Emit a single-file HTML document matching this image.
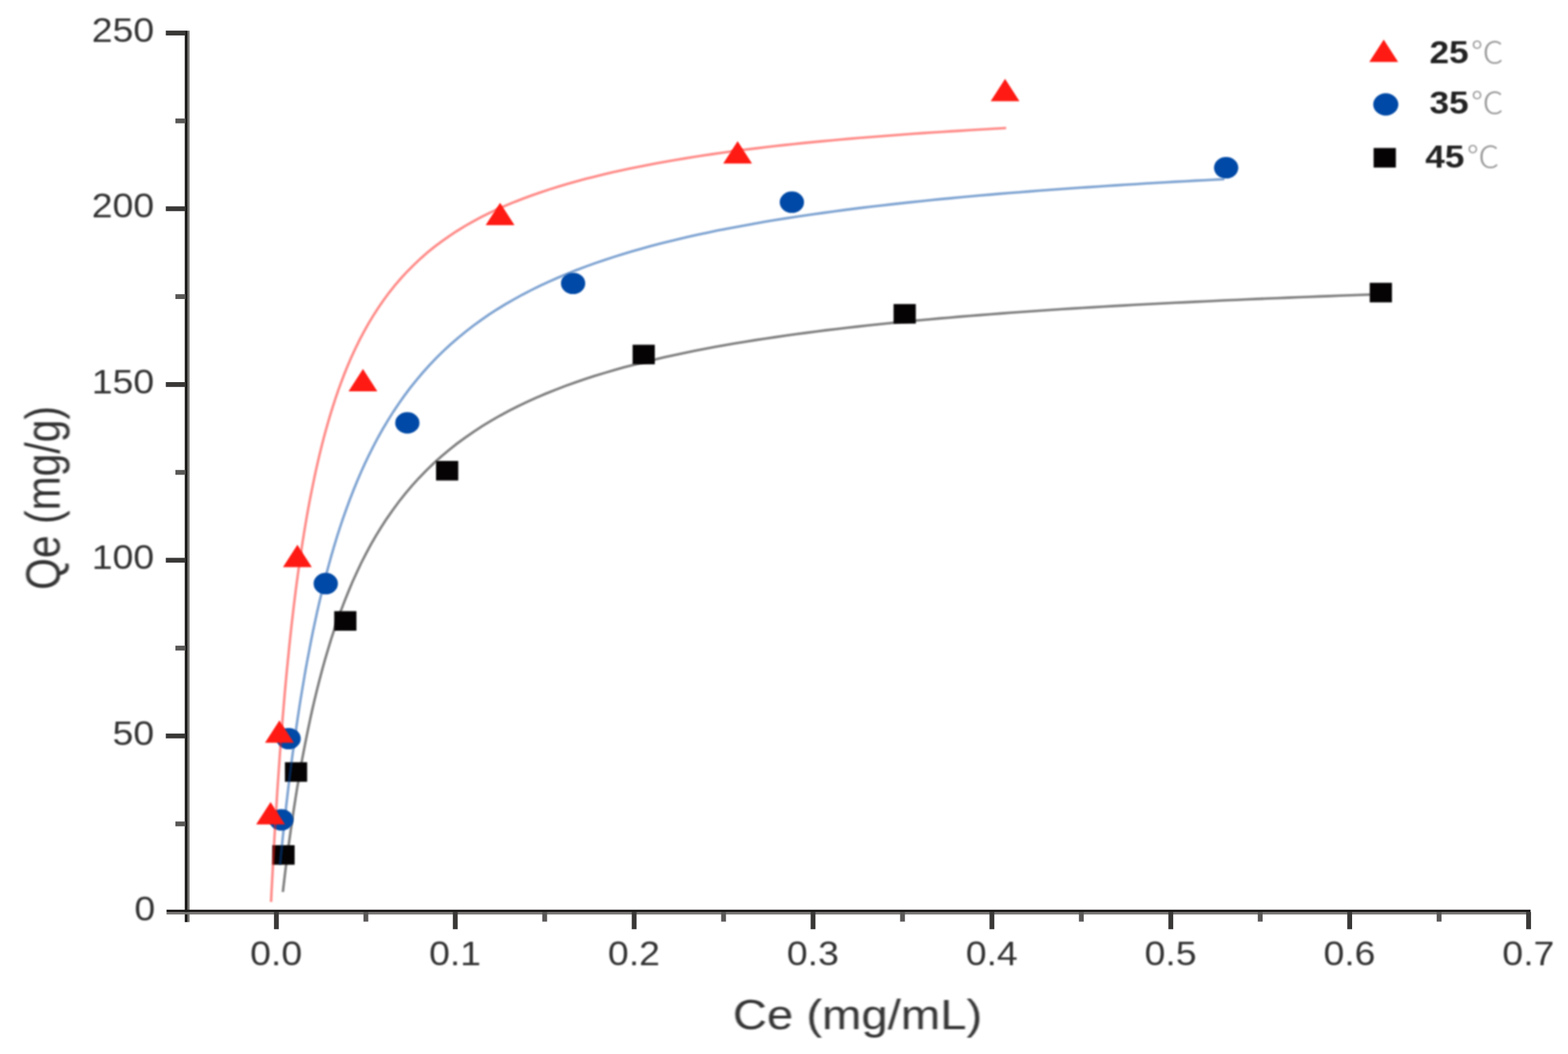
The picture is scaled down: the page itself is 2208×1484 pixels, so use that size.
<!DOCTYPE html>
<html lang="en"><head><meta charset="utf-8"><title>Adsorption isotherms</title>
<style>html,body{margin:0;padding:0;background:#fff;}body{width:2208px;height:1484px;overflow:hidden;}svg{display:block;}text{font-family:"Liberation Sans","Noto Sans CJK SC",sans-serif;}.bt{filter:blur(1.3px)}.bc{filter:blur(0.8px)}.bm{filter:blur(0.8px)}</style></head><body>
<svg width="2208" height="1484" viewBox="0 0 2208 1484">
<rect width="2208" height="1484" fill="#fff"/>
<g class="ba">
<rect x="260.2" y="43.2" width="3.9" height="1255.1" fill="#1c1919"/>
<rect x="264.1" y="43.2" width="2.8" height="1255.1" fill="#747271"/>
<rect x="234.5" y="1280.8" width="1920.8" height="3.3" fill="#1c1919"/>
<rect x="234.5" y="1284.1" width="1920.8" height="3.4" fill="#747271"/>
<rect x="247.0" y="1156.6" width="14.2" height="6.8" fill="#5a5757"/>
<rect x="233.5" y="1032.8" width="27.7" height="6.8" fill="#3a3737"/>
<rect x="247.0" y="909.1" width="14.2" height="6.8" fill="#5a5757"/>
<rect x="233.5" y="785.4" width="27.7" height="6.8" fill="#3a3737"/>
<rect x="247.0" y="661.7" width="14.2" height="6.8" fill="#5a5757"/>
<rect x="233.5" y="538.0" width="27.7" height="6.8" fill="#3a3737"/>
<rect x="247.0" y="414.2" width="14.2" height="6.8" fill="#5a5757"/>
<rect x="233.5" y="290.5" width="27.7" height="6.8" fill="#3a3737"/>
<rect x="247.0" y="166.8" width="14.2" height="6.8" fill="#5a5757"/>
<rect x="233.5" y="43.1" width="27.7" height="6.8" fill="#3a3737"/>
<rect x="385.8" y="1284.1" width="6.8" height="24.2" fill="#3a3737"/>
<rect x="511.8" y="1284.1" width="6.8" height="13.5" fill="#5a5757"/>
<rect x="637.7" y="1284.1" width="6.8" height="24.2" fill="#3a3737"/>
<rect x="763.6" y="1284.1" width="6.8" height="13.5" fill="#5a5757"/>
<rect x="889.6" y="1284.1" width="6.8" height="24.2" fill="#3a3737"/>
<rect x="1015.5" y="1284.1" width="6.8" height="13.5" fill="#5a5757"/>
<rect x="1141.5" y="1284.1" width="6.8" height="24.2" fill="#3a3737"/>
<rect x="1267.5" y="1284.1" width="6.8" height="13.5" fill="#5a5757"/>
<rect x="1393.4" y="1284.1" width="6.8" height="24.2" fill="#3a3737"/>
<rect x="1519.3" y="1284.1" width="6.8" height="13.5" fill="#5a5757"/>
<rect x="1645.3" y="1284.1" width="6.8" height="24.2" fill="#3a3737"/>
<rect x="1771.2" y="1284.1" width="6.8" height="13.5" fill="#5a5757"/>
<rect x="1897.2" y="1284.1" width="6.8" height="24.2" fill="#3a3737"/>
<rect x="2023.1" y="1284.1" width="6.8" height="13.5" fill="#5a5757"/>
<rect x="2149.1" y="1284.1" width="6.8" height="24.2" fill="#3a3737"/>
</g>
<path class="bc" fill="none" stroke="#050303" stroke-opacity="0.5" stroke-width="3.6" d="M398.3,1255.9 L400.0,1241.5 L401.7,1227.1 L403.5,1212.7 L405.4,1198.4 L407.3,1184.0 L409.3,1169.7 L411.4,1155.3 L413.5,1141.0 L415.7,1126.7 L418.0,1112.3 L420.4,1098.1 L422.9,1083.8 L425.4,1069.5 L428.1,1055.3 L430.9,1041.1 L433.8,1026.9 L436.8,1012.7 L439.9,998.5 L443.2,984.4 L446.6,970.3 L450.2,956.3 L453.9,942.3 L457.8,928.3 L461.9,914.4 L466.1,900.6 L470.6,886.8 L475.3,873.1 L480.2,859.5 L485.4,845.9 L490.8,832.5 L496.4,819.1 L502.4,805.9 L508.6,792.8 L515.2,779.9 L522.0,767.2 L529.2,754.6 L536.8,742.2 L544.7,730.1 L553.0,718.2 L561.6,706.5 L570.6,695.2 L579.9,684.1 L589.6,673.4 L599.7,662.9 L610.1,652.9 L620.9,643.1 L631.9,633.8 L643.3,624.8 L655.0,616.2 L666.9,607.9 L679.0,600.0 L691.4,592.5 L703.9,585.3 L716.7,578.4 L729.6,571.8 L742.7,565.6 L755.9,559.6 L769.2,554.0 L782.7,548.6 L796.2,543.4 L809.9,538.5 L823.6,533.8 L837.4,529.3 L851.2,525.1 L865.1,521.0 L879.1,517.1 L893.1,513.4 L907.1,509.8 L921.2,506.4 L935.3,503.1 L949.5,500.0 L963.6,497.0 L977.8,494.1 L992.1,491.3 L1006.3,488.6 L1020.6,486.1 L1034.8,483.6 L1049.1,481.2 L1063.4,478.9 L1077.8,476.7 L1092.1,474.6 L1106.4,472.5 L1120.8,470.5 L1135.1,468.6 L1149.5,466.7 L1163.9,464.9 L1178.3,463.2 L1192.7,461.5 L1207.1,459.9 L1221.5,458.3 L1235.9,456.7 L1250.3,455.2 L1264.7,453.8 L1279.1,452.4 L1293.6,451.0 L1308.0,449.7 L1322.4,448.4 L1336.8,447.2 L1351.3,445.9 L1365.7,444.8 L1380.2,443.6 L1394.6,442.5 L1409.1,441.4 L1423.5,440.3 L1438.0,439.3 L1452.4,438.2 L1466.9,437.3 L1481.3,436.3 L1495.8,435.3 L1510.3,434.4 L1524.7,433.5 L1539.2,432.6 L1553.6,431.8 L1568.1,430.9 L1582.6,430.1 L1597.0,429.3 L1611.5,428.5 L1626.0,427.8 L1640.5,427.0 L1654.9,426.3 L1669.4,425.6 L1683.9,424.9 L1698.3,424.2 L1712.8,423.5 L1727.3,422.8 L1741.8,422.2 L1756.3,421.5 L1770.7,420.9 L1785.2,420.3 L1799.7,419.7 L1814.2,419.1 L1828.6,418.5 L1843.1,418.0 L1857.6,417.4 L1872.1,416.9 L1886.6,416.3 L1901.0,415.8 L1915.5,415.3 L1930.0,414.8"/>
<g class="bm" fill="#050303">
<rect x="383.6" y="1190.0" width="31.3" height="27.5"/>
<rect x="401.2" y="1073.2" width="31.3" height="27.5"/>
<rect x="470.6" y="860.5" width="31.3" height="27.5"/>
<rect x="614.0" y="649.0" width="31.3" height="27.5"/>
<rect x="890.8" y="485.4" width="31.3" height="27.5"/>
<rect x="1258.3" y="428.1" width="31.3" height="27.5"/>
<rect x="1928.8" y="398.2" width="31.3" height="27.5"/>
<rect x="1934.3" y="208.4" width="31.3" height="27.5"/>
</g>
<path class="bc" fill="none" stroke="#0049a6" stroke-opacity="0.5" stroke-width="3.6" d="M394.4,1217.4 L395.7,1203.6 L397.1,1189.9 L398.5,1176.1 L400.0,1162.4 L401.5,1148.7 L403.0,1135.0 L404.6,1121.2 L406.2,1107.5 L407.9,1093.8 L409.6,1080.1 L411.4,1066.4 L413.3,1052.8 L415.2,1039.1 L417.1,1025.4 L419.1,1011.8 L421.2,998.1 L423.3,984.5 L425.6,970.8 L427.9,957.2 L430.2,943.6 L432.7,930.0 L435.3,916.5 L437.9,902.9 L440.6,889.4 L443.5,875.9 L446.4,862.4 L449.5,848.9 L452.7,835.5 L456.0,822.1 L459.4,808.7 L463.0,795.4 L466.7,782.1 L470.6,768.8 L474.6,755.6 L478.8,742.5 L483.2,729.4 L487.8,716.4 L492.6,703.4 L497.6,690.5 L502.8,677.7 L508.2,665.1 L513.9,652.5 L519.9,640.0 L526.1,627.7 L532.5,615.5 L539.3,603.5 L546.4,591.6 L553.7,579.9 L561.4,568.4 L569.4,557.1 L577.6,546.1 L586.3,535.3 L595.2,524.8 L604.4,514.5 L613.9,504.5 L623.8,494.8 L633.9,485.4 L644.3,476.3 L654.9,467.6 L665.8,459.1 L677.0,451.0 L688.4,443.1 L699.9,435.6 L711.7,428.4 L723.7,421.5 L735.8,414.8 L748.0,408.5 L760.4,402.4 L772.9,396.6 L785.6,391.0 L798.3,385.6 L811.1,380.5 L824.0,375.6 L837.0,370.9 L850.1,366.5 L863.2,362.1 L876.4,358.0 L889.6,354.1 L902.9,350.2 L916.2,346.6 L929.5,343.1 L942.9,339.7 L956.3,336.5 L969.8,333.3 L983.3,330.3 L996.8,327.4 L1010.3,324.6 L1023.8,322.0 L1037.4,319.4 L1051.0,316.9 L1064.6,314.4 L1078.2,312.1 L1091.8,309.8 L1105.4,307.6 L1119.1,305.5 L1132.7,303.5 L1146.4,301.5 L1160.1,299.6 L1173.7,297.7 L1187.4,295.9 L1201.1,294.1 L1214.8,292.4 L1228.5,290.8 L1242.2,289.2 L1256.0,287.6 L1269.7,286.1 L1283.4,284.6 L1297.1,283.2 L1310.9,281.8 L1324.6,280.4 L1338.4,279.1 L1352.1,277.8 L1365.9,276.5 L1379.6,275.3 L1393.4,274.1 L1407.1,272.9 L1420.9,271.8 L1434.6,270.7 L1448.4,269.6 L1462.2,268.5 L1475.9,267.5 L1489.7,266.5 L1503.5,265.5 L1517.3,264.5 L1531.0,263.6 L1544.8,262.7 L1558.6,261.8 L1572.4,260.9 L1586.1,260.0 L1599.9,259.2 L1613.7,258.3 L1627.5,257.5 L1641.3,256.7 L1655.1,255.9 L1668.8,255.2 L1682.6,254.4 L1696.4,253.7 L1710.2,253.0 L1724.0,252.3"/>
<g class="bm" fill="#0049a6">
<ellipse cx="396.1" cy="1154.3" rx="17.1" ry="15.1"/>
<ellipse cx="406.4" cy="1040" rx="17.1" ry="15.1"/>
<ellipse cx="458.7" cy="821.7" rx="17.1" ry="15.1"/>
<ellipse cx="573.6" cy="595.4" rx="17.1" ry="15.1"/>
<ellipse cx="807" cy="399" rx="17.1" ry="15.1"/>
<ellipse cx="1115.1" cy="284.7" rx="17.1" ry="15.1"/>
<ellipse cx="1726.6" cy="236.2" rx="17.1" ry="15.1"/>
<ellipse cx="1951.4" cy="147" rx="17.700000000000003" ry="15.7"/>
</g>
<path class="bc" fill="none" stroke="#ff1a13" stroke-opacity="0.5" stroke-width="3.6" d="M381.7,1269.9 L382.3,1256.9 L383.0,1243.9 L383.7,1231.0 L384.4,1218.0 L385.1,1205.0 L385.8,1192.0 L386.5,1179.0 L387.3,1166.0 L388.1,1153.0 L388.9,1140.1 L389.7,1127.1 L390.5,1114.1 L391.4,1101.1 L392.3,1088.2 L393.2,1075.2 L394.1,1062.2 L395.1,1049.2 L396.1,1036.3 L397.1,1023.3 L398.1,1010.3 L399.2,997.4 L400.3,984.4 L401.4,971.5 L402.6,958.5 L403.8,945.6 L405.1,932.6 L406.4,919.7 L407.7,906.8 L409.1,893.8 L410.5,880.9 L412.0,868.0 L413.5,855.1 L415.1,842.1 L416.7,829.2 L418.4,816.4 L420.2,803.5 L422.0,790.6 L423.9,777.7 L425.8,764.9 L427.9,752.0 L430.0,739.2 L432.2,726.4 L434.5,713.6 L436.9,700.8 L439.5,688.0 L442.1,675.3 L444.8,662.6 L447.7,649.9 L450.7,637.2 L453.8,624.6 L457.1,612.0 L460.6,599.5 L464.2,587.0 L468.0,574.6 L472.0,562.2 L476.2,549.9 L480.7,537.7 L485.3,525.5 L490.2,513.5 L495.4,501.6 L500.9,489.8 L506.6,478.1 L512.7,466.6 L519.0,455.3 L525.8,444.1 L532.8,433.2 L540.2,422.5 L547.9,412.0 L556.0,401.9 L564.5,392.0 L573.3,382.4 L582.5,373.2 L591.9,364.3 L601.7,355.7 L611.8,347.5 L622.2,339.7 L632.9,332.2 L643.7,325.1 L654.8,318.3 L666.1,311.9 L677.6,305.7 L689.2,299.9 L701.0,294.4 L712.9,289.2 L724.9,284.2 L737.0,279.5 L749.2,275.0 L761.5,270.7 L773.9,266.6 L786.3,262.7 L798.7,259.0 L811.3,255.5 L823.8,252.1 L836.4,248.9 L849.1,245.8 L861.7,242.8 L874.4,240.0 L887.1,237.3 L899.9,234.7 L912.6,232.2 L925.4,229.7 L938.2,227.4 L951.0,225.2 L963.8,223.1 L976.7,221.0 L989.5,219.0 L1002.4,217.1 L1015.3,215.3 L1028.2,213.5 L1041.1,211.8 L1054.0,210.1 L1066.9,208.6 L1079.8,207.0 L1092.7,205.5 L1105.6,204.1 L1118.6,202.7 L1131.5,201.4 L1144.4,200.1 L1157.4,198.9 L1170.3,197.7 L1183.3,196.5 L1196.2,195.4 L1209.2,194.3 L1222.2,193.2 L1235.1,192.2 L1248.1,191.2 L1261.1,190.2 L1274.0,189.2 L1287.0,188.3 L1300.0,187.4 L1312.9,186.5 L1325.9,185.7 L1338.9,184.9 L1351.9,184.1 L1364.9,183.3 L1377.8,182.5 L1390.8,181.8 L1403.8,181.0 L1416.8,180.3"/>
<g class="bm" fill="#ff1a13">
<path d="M381,1129.3 L401.3,1160.8 H360.7 Z"/>
<path d="M393.5,1014.3 L413.8,1045.8 H373.2 Z"/>
<path d="M418.8,766.9 L439.1,798.4 H398.5 Z"/>
<path d="M511.1,519.5 L531.4,551 H490.8 Z"/>
<path d="M704.2,285.5 L724.5,317 H683.9000000000001 Z"/>
<path d="M1038.7,198.7 L1059.0,230.2 H1018.4000000000001 Z"/>
<path d="M1415.3,111.1 L1435.6,142.6 H1395.0 Z"/>
<path d="M1948.5,55.7 L1968.8,87.2 H1928.2 Z"/>
</g>
<g class="bt" font-size="49" fill="#333">
<text transform="translate(218.5,1296.2) scale(1.075,1)" text-anchor="end">0</text>
<text transform="translate(217,1048.8) scale(1.075,1)" text-anchor="end">50</text>
<text transform="translate(217,801.3) scale(1.075,1)" text-anchor="end">100</text>
<text transform="translate(217,553.9) scale(1.075,1)" text-anchor="end">150</text>
<text transform="translate(217,306.4) scale(1.075,1)" text-anchor="end">200</text>
<text transform="translate(217,59.0) scale(1.075,1)" text-anchor="end">250</text>
<text transform="translate(388.9,1359) scale(1.075,1)" text-anchor="middle">0.0</text>
<text transform="translate(640.8,1359) scale(1.075,1)" text-anchor="middle">0.1</text>
<text transform="translate(892.7,1359) scale(1.075,1)" text-anchor="middle">0.2</text>
<text transform="translate(1144.6,1359) scale(1.075,1)" text-anchor="middle">0.3</text>
<text transform="translate(1396.5,1359) scale(1.075,1)" text-anchor="middle">0.4</text>
<text transform="translate(1648.4,1359) scale(1.075,1)" text-anchor="middle">0.5</text>
<text transform="translate(1900.3,1359) scale(1.075,1)" text-anchor="middle">0.6</text>
<text transform="translate(2152.2,1359) scale(1.075,1)" text-anchor="middle">0.7</text>
</g>
<text class="bt" transform="translate(1207.5,1449) scale(1.128,1)" font-size="59" fill="#333" text-anchor="middle">Ce (mg/mL)</text>
<text class="bt" transform="translate(84,701) scale(1.18,1) rotate(-90)" font-size="57.5" fill="#333" text-anchor="middle">Qe (mg/g)</text>
<g class="bt">
<text transform="translate(2013,89) scale(1.1,1)" font-size="45" font-weight="bold" fill="#222">25<tspan font-weight="300" font-size="42" fill="#999" dx="3" dy="0">℃</tspan></text>
<text transform="translate(2013,159.5) scale(1.1,1)" font-size="45" font-weight="bold" fill="#222">35<tspan font-weight="300" font-size="42" fill="#999" dx="3" dy="0">℃</tspan></text>
<text transform="translate(2007,235.5) scale(1.1,1)" font-size="45" font-weight="bold" fill="#222">45<tspan font-weight="300" font-size="42" fill="#999" dx="3" dy="0">℃</tspan></text>
</g>
</svg></body></html>
